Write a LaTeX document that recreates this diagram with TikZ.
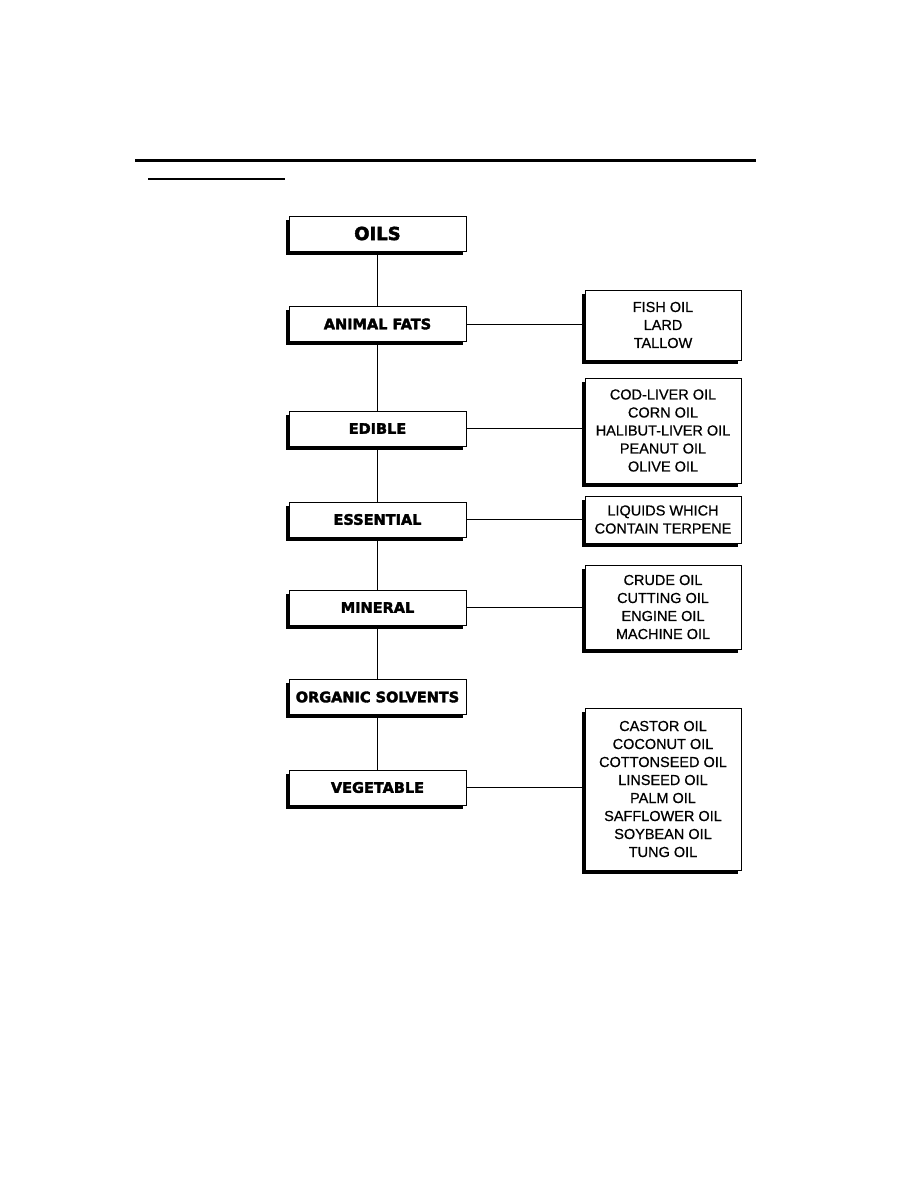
\documentclass[tikz,border=0pt]{standalone}
\usepackage{fontspec}
\setmainfont{Liberation Sans}[FakeBold=0.6]
\newfontfamily\heavy{DejaVu Sans}[BoldFeatures={FakeBold=2.5}]
\usetikzlibrary{shadows}
\begin{document}
\begin{tikzpicture}[x=1pt,y=-1pt,
  shadowbox/.style={draw=black, line width=1pt, fill=white,
    general shadow={fill=black, shadow xshift=-3pt, shadow yshift=-3.5pt}},
  leftbox/.style={shadowbox, minimum width=177pt, minimum height=35pt, inner sep=0pt,
    font=\heavy\bfseries\fontsize{14.5}{16}\selectfont},
  rightbox/.style={shadowbox, minimum width=156pt, inner sep=0pt, align=center,
    font=\fontsize{14.5}{18}\selectfont},
  conn/.style={line width=1pt}]
\useasboundingbox (0,0) rectangle (918,1188);
\draw[line width=3pt] (135,160) -- (756,160);
\draw[line width=1.2pt] (148,179) -- (285,179);

\node[leftbox, font=\heavy\bfseries\fontsize{18}{20}\selectfont] (oils) at (377.5,233.5) {OILS};
\node[leftbox] (animal) at (377.5,324) {ANIMAL FATS};
\node[leftbox] (edible) at (377.5,428.5) {EDIBLE};
\node[leftbox] (essential) at (377.5,519.5) {ESSENTIAL};
\node[leftbox] (mineral) at (377.5,607.5) {MINERAL};
\node[leftbox] (organic) at (377.5,697) {ORGANIC SOLVENTS};
\node[leftbox] (vegetable) at (377.5,787.5) {VEGETABLE};

\node[rightbox, minimum height=70pt] (fish) at (663,325) {FISH OIL\\LARD\\TALLOW};
\node[rightbox, minimum height=105pt] (cod) at (663,430.5) {COD-LIVER OIL\\CORN OIL\\HALIBUT-LIVER OIL\\PEANUT OIL\\OLIVE OIL};
\node[rightbox, minimum height=47pt] (liquids) at (663,519.5) {LIQUIDS WHICH\\CONTAIN TERPENE};
\node[rightbox, minimum height=84pt] (crude) at (663,607) {CRUDE OIL\\CUTTING OIL\\ENGINE OIL\\MACHINE OIL};
\node[rightbox, minimum height=162pt] (castor) at (663,789) {CASTOR OIL\\COCONUT OIL\\COTTONSEED OIL\\LINSEED OIL\\PALM OIL\\SAFFLOWER OIL\\SOYBEAN OIL\\TUNG OIL};

\draw[conn] (oils.south) -- (animal.north);
\draw[conn] (animal.south) -- (edible.north);
\draw[conn] (edible.south) -- (essential.north);
\draw[conn] (essential.south) -- (mineral.north);
\draw[conn] (mineral.south) -- (organic.north);
\draw[conn] (organic.south) -- (vegetable.north);
\draw[conn] (animal.east) -- (animal.east -| fish.west);
\draw[conn] (edible.east) -- (edible.east -| cod.west);
\draw[conn] (essential.east) -- (essential.east -| liquids.west);
\draw[conn] (mineral.east) -- (mineral.east -| crude.west);
\draw[conn] (vegetable.east) -- (vegetable.east -| castor.west);
\end{tikzpicture}
\end{document}
